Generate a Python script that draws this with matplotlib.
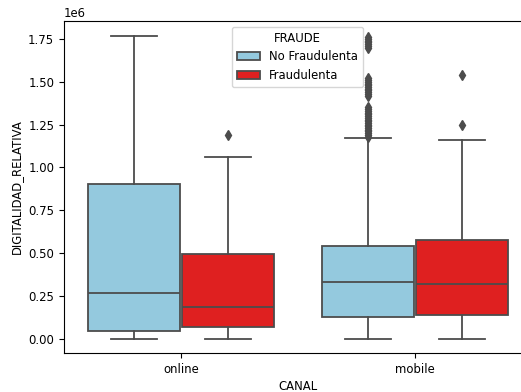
import colorsys
import matplotlib
matplotlib.use("Agg")
import matplotlib.pyplot as plt
import matplotlib.colors as mcolors
from matplotlib.patches import Patch

canales = ["online", "mobile"]
grupos = ["No Fraudulenta", "Fraudulenta"]
colores = ["skyblue", "red"]

# box stats (units of 1e6)
online_nf = dict(whislo=0.0, q1=0.048, med=0.268, q3=0.905, whishi=1.768, fliers=[])
online_f = dict(whislo=0.0, q1=0.068, med=0.183, q3=0.496, whishi=1.062, fliers=[1.188])
mobile_nf = dict(whislo=0.0, q1=0.127, med=0.333, q3=0.539, whishi=1.172,
                 fliers=[1.18, 1.19, 1.20, 1.21, 1.22, 1.23, 1.24, 1.25, 1.26, 1.27,
                         1.28, 1.29, 1.30, 1.31, 1.32, 1.33, 1.34, 1.355,
                         1.42, 1.43, 1.44, 1.45, 1.46, 1.47, 1.48, 1.49, 1.50, 1.51, 1.525,
                         1.70, 1.71, 1.72, 1.73, 1.74, 1.75, 1.76])
mobile_f = dict(whislo=0.0, q1=0.138, med=0.319, q3=0.574, whishi=1.162, fliers=[1.245, 1.538])

plt.rcParams["font.size"] = 8.4


def desat(c, prop=0.75):
    r, g, b = mcolors.to_rgb(c)
    h, l, s = colorsys.rgb_to_hls(r, g, b)
    return colorsys.hls_to_rgb(h, l, s * prop)


def scale(st):
    out = {}
    for k, v in st.items():
        if k == "fliers":
            out[k] = [x * 1e6 for x in v]
        else:
            out[k] = v * 1e6
    return out


fig = plt.figure(figsize=(5.21, 3.92), dpi=100)
ax = fig.add_axes([64 / 521, 39 / 392, 468 / 521, 332 / 392])

gray = "#4c4c4c"
lw = 1.3
stats = [[online_nf, online_f], [mobile_nf, mobile_f]]
for i, par in enumerate(stats):
    for j, st in enumerate(par):
        pos = i + (-0.2 if j == 0 else 0.2)
        ax.bxp([scale(st)], positions=[pos], widths=0.392, capwidths=0.196,
               patch_artist=True, manage_ticks=False,
               boxprops=dict(facecolor=desat(colores[j]), edgecolor=gray, linewidth=lw),
               whiskerprops=dict(color=gray, linewidth=lw),
               capprops=dict(color=gray, linewidth=lw),
               medianprops=dict(color=gray, linewidth=lw),
               flierprops=dict(marker="d", markerfacecolor=gray, markeredgecolor=gray,
                               markersize=4.8, linestyle="none"))

ax.set_xlim(-0.5, 1.5)
ax.set_ylim(-0.083e6, 1.855e6)
ax.set_xticks([0, 1])
ax.set_xticklabels(canales)
ax.set_yticks([0, 0.25e6, 0.5e6, 0.75e6, 1.0e6, 1.25e6, 1.5e6, 1.75e6])
ax.set_xlabel("CANAL", labelpad=3)
ax.set_ylabel("DIGITALIDAD_RELATIVA")

handles = [Patch(facecolor=desat(c), edgecolor=gray, linewidth=lw) for c in colores]
ax.legend(handles, grupos, title="FRAUDE", loc="upper left",
          bbox_to_anchor=(0.359, 0.982), borderaxespad=0)

fig.savefig("out.png", dpi=100)
